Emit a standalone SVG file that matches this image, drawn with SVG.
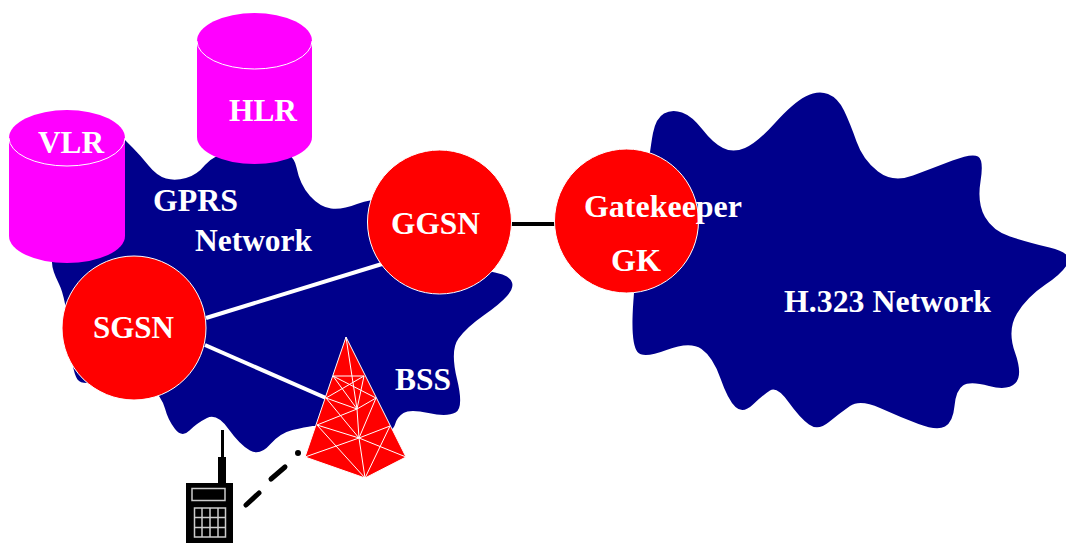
<svg xmlns="http://www.w3.org/2000/svg" width="1066" height="543" viewBox="0 0 1066 543">
<style>
.cloud{fill:#00008b}
.db{fill:#f0f}
.rim{fill:none;stroke:#fff;stroke-width:1}
.router{fill:#f00;stroke:#fff;stroke-width:1}
text{font-family:"Liberation Serif","Times New Roman",serif;font-weight:bold;font-size:31px;fill:#fff}
.lan{fill:none;stroke:#fff;stroke-width:4}
.wan{fill:none;stroke:#000;stroke-width:4}
.air{fill:none;stroke:#000;stroke-width:5;stroke-linecap:round}
.mesh{fill:none;stroke:#fff;stroke-width:1}
.key{fill:none;stroke:#ccc;stroke-width:1.5}
</style>
<rect width="1066" height="543" fill="#fff"/>
<g id="gprs-network">
<path class="cloud" d="M100,140 L125,140 L132.500,147.500 Q140,155 148.500,165.500 Q157,176 166,178.500 Q175,181 186,178 Q197,175 205,165 Q213,155 231.500,152.500 Q250,150 271.500,150 Q293,150 296.500,167.500 Q300,185 310,196 Q320,207 331,208.500 Q342,210 357,204 Q372,198 401,199 Q430,200 455,235 Q480,270 487.500,271 Q495,272 502.500,274.500 Q510,277 512,282.500 Q514,288 507,296 Q500,304 483.500,315.500 Q467,327 458.500,338.500 Q450,350 457,379 Q464,408 455.500,412.500 Q447,417 428.500,413 Q410,409 403.500,413 Q397,417 395,424.500 Q393,432 376.500,436 Q360,440 340,432.500 Q320,425 312.500,426 Q305,427 292.500,430 Q280,433 270,444.500 Q260,456 250,450.500 Q240,445 228.500,429 Q217,413 207,418 Q197,423 189.500,430.500 Q182,438 175,429 Q168,420 165,408.500 Q162,397 148,383.500 Q134,370 108.500,378.500 Q83,387 77.500,379.500 Q72,372 69,335 Q66,298 59,284 Q52,270 52,262.500 L60,200 Z"/>
<text x="153" y="211" textLength="85" lengthAdjust="spacingAndGlyphs">GPRS</text>
<text x="195" y="251" textLength="117" lengthAdjust="spacingAndGlyphs">Network</text>
</g>
<g id="h323-network">
<path class="cloud" d="M641.500,220.500 Q650,148 653,133 Q656,118 664,113.500 Q672,109 682,112.500 Q692,116 702.500,129.500 Q713,143 723,148 Q733,153 745,148 Q757,143 775,123 Q793,103 805.500,96.500 Q818,90 828,94 Q838,98 844,110.500 Q850,123 856.500,141.500 Q863,160 878,171.500 Q893,183 913,175.500 Q933,168 952.500,160.500 Q972,153 978,156.500 Q984,160 980.500,181.500 Q977,203 985,217 Q993,231 1010,236.500 Q1027,242 1049.500,247.500 Q1072,253 1068,262.500 Q1064,272 1045.500,284.500 Q1027,297 1017,313.500 Q1007,330 1015,352.500 Q1023,375 1015.500,383 Q1008,391 989,386 Q970,381 963,385.500 Q956,390 954.500,406 Q953,422 945,426.500 Q937,431 918.500,424 Q900,417 880,408 Q860,399 850,406 Q840,413 829,422 Q818,431 809,424.500 Q800,418 788.500,402 Q777,386 770,390.500 Q763,395 753,404.500 Q743,414 735.500,407 Q728,400 720.500,378.500 Q713,357 701.500,349 Q690,341 666.500,350 Q643,359 637.500,352 Q632,345 632.500,319 Q633,293 641.500,220.500 Z"/>
<text x="784" y="312" textLength="207" lengthAdjust="spacingAndGlyphs">H.323 Network</text>
</g>
<g id="connectors">
<line class="lan" x1="206" y1="318" x2="382" y2="264"/>
<line class="lan" x1="205" y1="345" x2="326" y2="398"/>
<line class="wan" x1="511" y1="224" x2="555" y2="224"/>
<line class="air" x1="246" y1="505" x2="259" y2="493"/>
<line class="air" x1="271" y1="479" x2="285" y2="467"/>
<circle cx="298" cy="453" r="3" fill="#000"/>
</g>
<g id="vlr">
<path class="db" d="M9,138 V236 A58,27 0 0 0 125,236 V138 A58,28 0 0 0 9,138 Z"/>
<path class="rim" d="M9,138 A58,28 0 0 0 125,138"/>
<text x="38" y="153" textLength="66" lengthAdjust="spacingAndGlyphs">VLR</text>
</g>
<g id="hlr">
<path class="db" d="M197,41 V137 A57.500,27 0 0 0 312,137 V41 A57.500,28 0 0 0 197,41 Z"/>
<path class="rim" d="M197,41 A57.500,28 0 0 0 312,41"/>
<text x="229" y="121" textLength="68" lengthAdjust="spacingAndGlyphs">HLR</text>
</g>
<g id="ggsn">
<circle class="router" cx="439.500" cy="222" r="72"/>
<text x="391" y="234" textLength="89" lengthAdjust="spacingAndGlyphs">GGSN</text>
</g>
<g id="sgsn">
<circle class="router" cx="134" cy="328" r="72"/>
<text x="93" y="338" textLength="81" lengthAdjust="spacingAndGlyphs">SGSN</text>
</g>
<g id="gatekeeper">
<circle class="router" cx="626.500" cy="221" r="72"/>
<text x="584" y="217" textLength="158" lengthAdjust="spacingAndGlyphs">Gatekeeper</text>
<text x="611" y="271" textLength="50" lengthAdjust="spacingAndGlyphs">GK</text>
</g>
<g id="bss">
<polygon class="router" points="346,337 305,457 365,478 406,457"/>
<path class="mesh" d="M346,337 L357,409 L359,438 L365,478 M333,376 L364,376 M333,376 L376,398 M364,376 L326,398 M333,376 L357,409 M364,376 L357,409 M326,398 L357,409 L376,398 M357,409 L317,425 M326,398 L359,438 M376,398 L359,438 M317,425 L359,438 M390,426 L359,438 M305,457 L359,438 L406,457 M317,425 L365,478 M390,426 L365,478"/>
<text x="395" y="390" textLength="56" lengthAdjust="spacingAndGlyphs">BSS</text>
</g>
<g id="mobile">
<rect x="221" y="430" width="3" height="28" fill="#000"/>
<rect x="218" y="457" width="8" height="27" fill="#000"/>
<rect x="186" y="483" width="47" height="60" fill="#000"/>
<rect class="key" x="192" y="488.500" width="33" height="12"/>
<path class="key" d="M194.500,508 H225.500 V537 H194.500 Z M202,508 V537 M210,508 V537 M218,508 V537 M194.500,517.500 H225.500 M194.500,527.500 H225.500"/>
</g>
</svg>
